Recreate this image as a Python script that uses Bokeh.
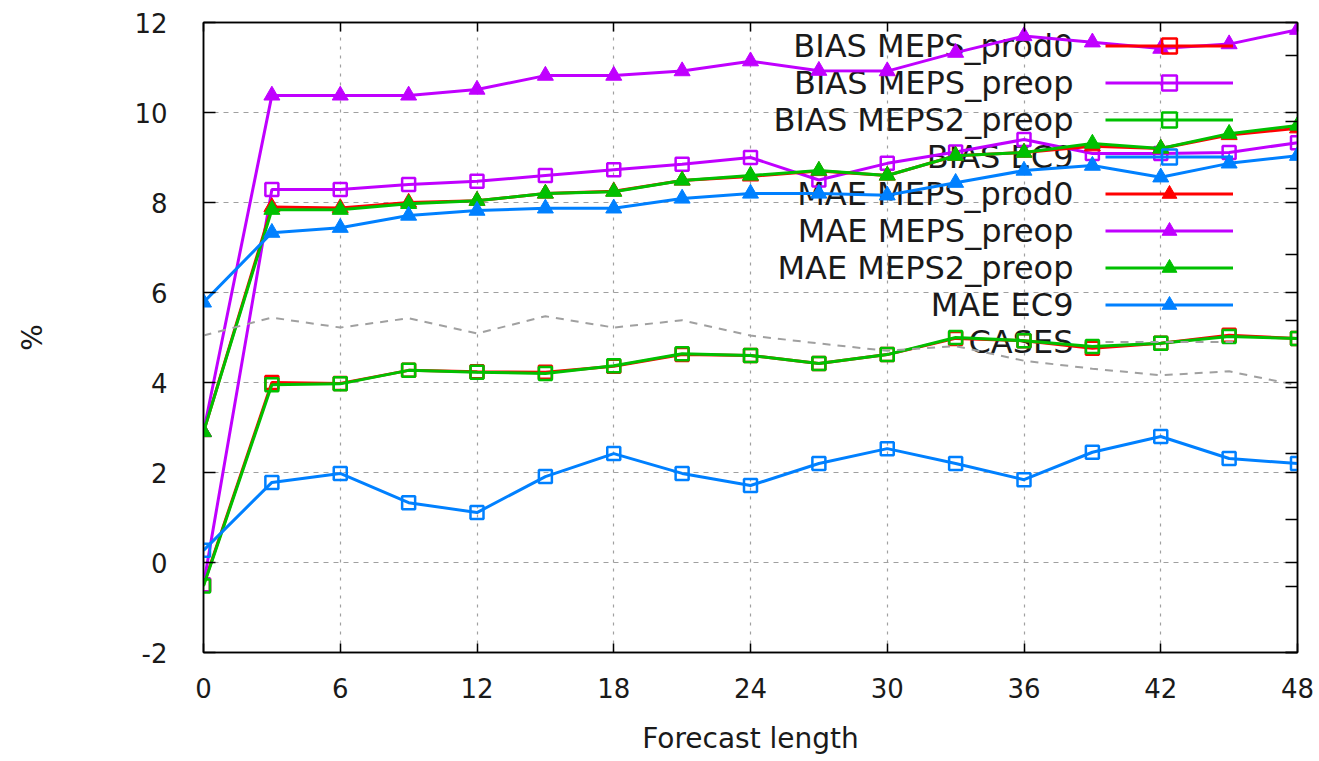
from bokeh.plotting import figure
from bokeh.models import Range1d, LinearAxis, FixedTicker, Legend, LegendItem, Label
from bokeh.embed import file_html
from bokeh.resources import INLINE

# ---------------- data ----------------
hours = [0, 3, 6, 9, 12, 15, 18, 21, 24, 27, 30, 33, 36, 39, 42, 45, 48]

bias_meps_prod0 = [-0.50, 4.00, 3.98, 4.27, 4.24, 4.23, 4.36, 4.62, 4.60, 4.42, 4.62, 4.98, 4.93, 4.76, 4.87, 5.05, 4.98]
bias_meps_preop = [-0.50, 8.29, 8.29, 8.40, 8.47, 8.60, 8.73, 8.85, 9.00, 8.50, 8.87, 9.12, 9.40, 9.09, 9.09, 9.11, 9.33]
bias_meps2_preop = [-0.52, 3.95, 3.97, 4.27, 4.23, 4.20, 4.37, 4.64, 4.60, 4.42, 4.62, 5.00, 4.93, 4.80, 4.87, 5.02, 4.98]
bias_ec9 = [0.27, 1.78, 1.98, 1.33, 1.11, 1.91, 2.42, 1.98, 1.71, 2.20, 2.53, 2.20, 1.84, 2.45, 2.80, 2.31, 2.20]

mae_meps_prod0 = [2.90, 7.90, 7.88, 8.00, 8.04, 8.20, 8.25, 8.49, 8.58, 8.70, 8.60, 9.04, 9.11, 9.25, 9.20, 9.50, 9.65]
mae_meps_preop = [2.90, 10.38, 10.38, 10.38, 10.51, 10.82, 10.82, 10.92, 11.14, 10.93, 10.92, 11.33, 11.70, 11.56, 11.42, 11.52, 11.84]
mae_meps2_preop = [2.90, 7.84, 7.84, 7.97, 8.04, 8.20, 8.24, 8.49, 8.60, 8.71, 8.60, 9.04, 9.11, 9.31, 9.20, 9.53, 9.71]
mae_ec9 = [5.78, 7.33, 7.44, 7.71, 7.82, 7.87, 7.87, 8.09, 8.20, 8.20, 8.16, 8.44, 8.71, 8.82, 8.56, 8.87, 9.04]

# number of cases (right axis, its labels are cut off in the picture)
cases = [478, 505, 490, 504, 481, 507, 490, 501, 478, 466, 455, 462, 440, 428, 418, 424, 403]

series_names = ["BIAS MEPS_prod0", "BIAS MEPS_preop", "BIAS MEPS2_preop", "BIAS EC9",
                "MAE MEPS_prod0", "MAE MEPS_preop", "MAE MEPS2_preop", "MAE EC9", "CASES"]

x_ticks = [0, 6, 12, 18, 24, 30, 36, 42, 48]
y_ticks = [-2, 0, 2, 4, 6, 8, 10, 12]
y_tick_labels = ["-2", "0", "2", "4", "6", "8", "10", "12"]
y2_ticks = [0, 100, 200, 300, 400, 500, 600, 700, 800, 900]

# ---------------- style ----------------
FONT = "DejaVu Sans"
TXT = "#1a1a1a"
RED, PURPLE, GREEN, BLUE, GRAY = "#ff0000", "#c000ff", "#00c000", "#0080ff", "#a0a0a0"

Y_LO, Y_HI = -2, 12
Y2_LO, Y2_HI = 0, 950

p = figure(width=1319, height=761, output_backend="svg", toolbar_location=None,
           x_range=Range1d(0, 48), y_range=Range1d(Y_LO, Y_HI),
           min_border_left=203, min_border_right=22, min_border_top=22, min_border_bottom=109,
           background_fill_color="white", border_fill_color="white")
p.extra_y_ranges = {"y2": Range1d(Y2_LO, Y2_HI)}

p.outline_line_color = "black"
p.outline_line_width = 1.5

# axes
xa = p.xaxis[0]
xa.ticker = FixedTicker(ticks=x_ticks, minor_ticks=[])
xa.axis_label = "Forecast length"
ya = p.yaxis[0]
ya.ticker = FixedTicker(ticks=y_ticks, minor_ticks=[])
ya.major_label_overrides = {t: s for t, s in zip(y_ticks, y_tick_labels)}
ya.axis_label = "%"
for ax, tin in ((xa, 9), (ya, 12)):
    ax.major_tick_in = tin
    ax.major_tick_out = 0
    ax.minor_tick_in = 0
    ax.minor_tick_out = 0
    ax.major_tick_line_color = "black"
    ax.major_tick_line_width = 1.5
    ax.axis_line_color = "black"
    ax.axis_line_width = 1.5
    ax.major_label_text_font = FONT
    ax.major_label_text_font_size = "26px"
    ax.major_label_text_color = TXT
    ax.axis_label_text_font = FONT
    ax.axis_label_text_font_size = "28px"
    ax.axis_label_text_font_style = "normal"
    ax.axis_label_text_color = TXT
xa.major_label_standoff = 25
xa.axis_label_standoff = 21
ya.major_label_standoff = 36
ya.axis_label_standoff = 82

# mirrored top axis (ticks only)
top = LinearAxis(ticker=FixedTicker(ticks=x_ticks, minor_ticks=[]),
                 major_tick_in=9, major_tick_out=0, minor_tick_in=0, minor_tick_out=0,
                 major_label_standoff=0, major_label_text_font_size="0px",
                 major_label_overrides={t: "" for t in x_ticks},
                 axis_line_color="black", axis_line_width=1.5,
                 major_tick_line_color="black", major_tick_line_width=1.5)
p.add_layout(top, "above")

# right axis: CASES scale (major) + mirrored % ticks (minor)
mirror = [(v - Y_LO) / (Y_HI - Y_LO) * (Y2_HI - Y2_LO) + Y2_LO for v in y_ticks]
right = LinearAxis(y_range_name="y2", ticker=FixedTicker(ticks=y2_ticks, minor_ticks=mirror),
                   major_tick_in=12, major_tick_out=0, minor_tick_in=12, minor_tick_out=0,
                   major_label_standoff=0, major_label_text_font_size="0px",
                   major_label_overrides={t: "" for t in y2_ticks},
                   axis_line_color="black", axis_line_width=1.5,
                   major_tick_line_color="black", major_tick_line_width=1.5,
                   minor_tick_line_color="black", minor_tick_line_width=1.5)
p.add_layout(right, "right")

# grid
p.xgrid.ticker = FixedTicker(ticks=x_ticks)
p.ygrid.ticker = FixedTicker(ticks=y_ticks)
p.xgrid.grid_line_color = GRAY
p.xgrid.grid_line_dash = "3 6"
p.xgrid.grid_line_width = 1.2
p.ygrid.grid_line_color = GRAY
p.ygrid.grid_line_dash = "5 5"
p.ygrid.grid_line_width = 1.2

# ---------------- series ----------------
specs = [
    (bias_meps_prod0, RED, "square"),
    (bias_meps_preop, PURPLE, "square"),
    (bias_meps2_preop, GREEN, "square"),
    (bias_ec9, BLUE, "square"),
    (mae_meps_prod0, RED, "triangle"),
    (mae_meps_preop, PURPLE, "triangle"),
    (mae_meps2_preop, GREEN, "triangle"),
    (mae_ec9, BLUE, "triangle"),
]

legend_rends = []
for ys, col, mk in specs:
    rl = p.line(hours, ys, line_color=col, line_width=3)
    if mk == "square":
        rs = p.scatter(hours, ys, marker="square", size=13, line_color=col, line_width=2.5,
                       fill_color=None)
    else:
        rs = p.scatter(hours, ys, marker="triangle", size=16, line_color=col, line_width=1,
                       fill_color=col)
    legend_rends.append([rl, rs])

rc = p.line(hours, cases, y_range_name="y2", line_color=GRAY, line_width=2, line_dash="8 7")
legend_rends.append([rc])

# ---------------- key (gnuplot style: text right-aligned, sample on the right) ----------------
ROW_H = 37
LEG_X = 902          # frame px of sample start
LEG_Y = 292          # frame px of key bottom
TEXT_RIGHT = 870

items = [LegendItem(label=" ", renderers=r) for r in legend_rends]
legend = Legend(items=items, location=(LEG_X, LEG_Y), orientation="vertical",
                glyph_width=128, glyph_height=ROW_H, label_width=0, label_height=ROW_H,
                label_standoff=0, spacing=0, padding=0, margin=0,
                border_line_alpha=0, background_fill_alpha=0,
                label_text_font_size="1px")
p.add_layout(legend)

leg_top = LEG_Y + ROW_H * len(series_names)
for i, name in enumerate(series_names):
    p.add_layout(Label(x=TEXT_RIGHT, y=leg_top - ROW_H / 2 - ROW_H * i,
                       x_units="screen", y_units="screen", text=name,
                       text_align="right", text_baseline="middle",
                       text_font=FONT, text_font_size="32px", text_color=TXT,
                       level="underlay"))

open("out.html", "w").write(file_html(p, INLINE))
